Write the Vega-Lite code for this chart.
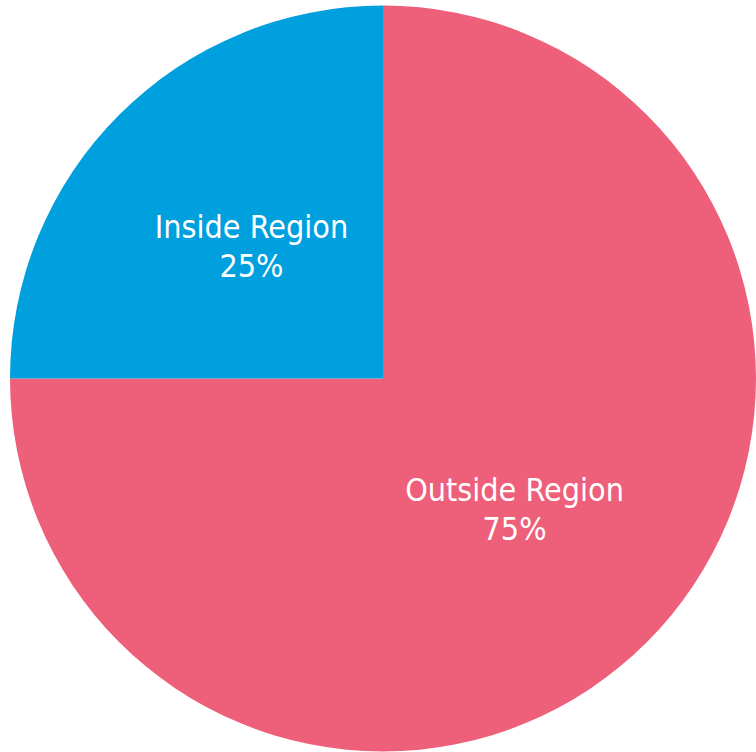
{
  "$schema": "https://vega.github.io/schema/vega-lite/v6.json",
  "width": 756,
  "height": 752,
  "autosize": {"type": "fit", "contains": "padding"},
  "padding": {"left": 10, "top": 5, "right": 0, "bottom": 0},
  "background": "white",
  "view": {"stroke": null},
  "data": {
    "values": [
      {"region": "Outside Region", "value": 75, "label": "Outside Region\n75%", "ord": 1},
      {"region": "Inside Region", "value": 25, "label": "Inside Region\n25%", "ord": 2}
    ]
  },
  "encoding": {
    "theta": {"field": "value", "type": "quantitative", "stack": true},
    "order": {"field": "ord", "type": "quantitative"}
  },
  "layer": [
    {
      "mark": {"type": "arc", "outerRadius": 373, "stroke": null},
      "encoding": {
        "color": {
          "field": "region",
          "type": "nominal",
          "scale": {"domain": ["Outside Region", "Inside Region"], "range": ["#EE5F7A", "#009FDE"]},
          "legend": null
        }
      }
    },
    {
      "mark": {
        "type": "text",
        "radius": 186,
        "dy": -19,
        "fontSize": 32,
        "font": "DejaVu Sans Condensed",
        "fill": "white",
        "align": "center",
        "baseline": "middle",
        "lineBreak": "\n",
        "lineHeight": 39
      },
      "encoding": {
        "text": {"field": "label", "type": "nominal"}
      }
    }
  ]
}
